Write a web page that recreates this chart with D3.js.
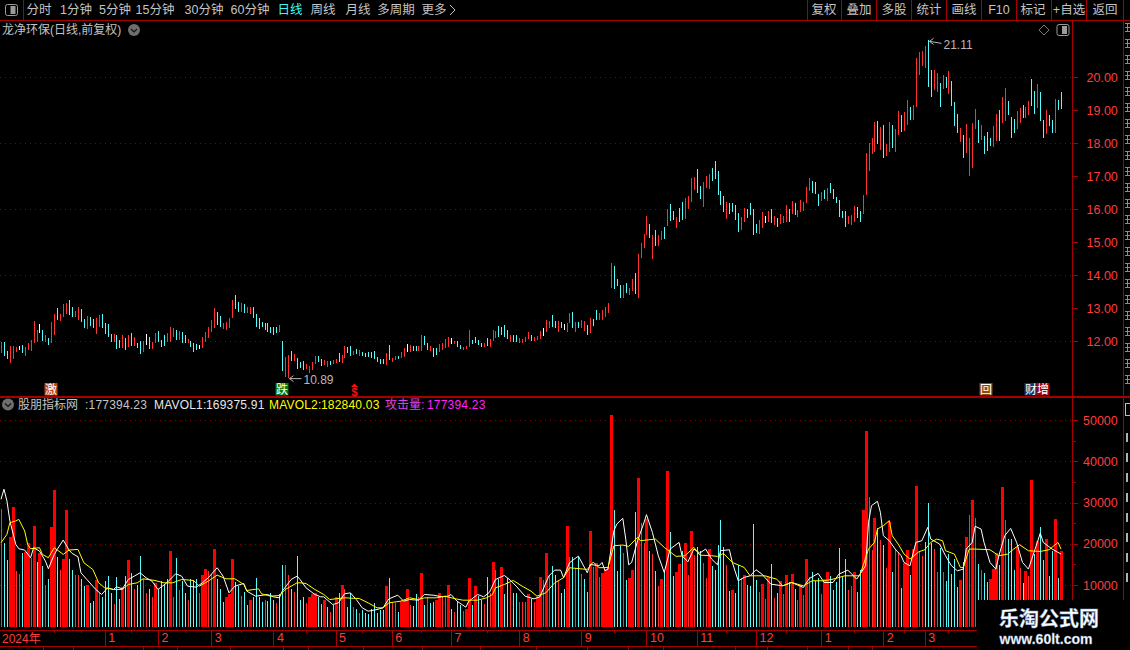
<!DOCTYPE html>
<html>
<head>
<meta charset="utf-8">
<title>龙净环保</title>
<script src="https://cdn.jsdelivr.net/npm/d3@7"></script>
<style>
  html, body { margin: 0; padding: 0; background: #000; overflow: hidden; }
  svg { display: block; }
  text { font-family: "Liberation Sans", "Noto Sans CJK SC", sans-serif; }
</style>
</head>
<body>
<script>
// price bars (r up, c down, w flat)
var highs = [
  11.98,11.97,11.70,11.85,11.85,11.81,11.85,11.88,11.81,11.93,
  12.02,12.61,12.33,12.52,12.33,12.18,12.09,12.58,12.82,13.00,
  12.82,13.12,13.16,13.24,13.03,12.91,13.03,12.97,12.67,12.76,
  12.73,12.67,12.70,12.79,12.82,12.55,12.52,12.21,12.21,12.18,
  12.03,12.18,12.09,12.18,12.24,12.12,11.94,12.00,12.00,12.21,
  12.12,11.98,12.23,12.30,12.03,12.18,12.25,12.42,12.40,12.33,
  12.31,12.28,12.18,12.05,12.01,11.93,11.90,11.88,12.13,12.28,
  12.41,12.64,12.99,12.89,12.76,12.54,12.59,12.69,13.24,13.39,
  13.19,13.14,13.12,13.02,13.02,13.02,12.82,12.69,12.59,12.54,
  12.56,12.43,12.41,12.41,12.48,12.00,11.51,11.58,11.70,11.61,
  11.47,11.37,11.39,11.30,11.24,11.37,11.55,11.55,11.44,11.42,
  11.39,11.40,11.42,11.45,11.63,11.58,11.85,11.83,11.85,11.70,
  11.76,11.73,11.68,11.65,11.67,11.68,11.70,11.51,11.44,11.46,
  11.63,11.88,11.49,11.56,11.56,11.66,11.79,11.91,11.88,11.84,
  11.84,11.86,12.18,12.16,11.93,11.85,11.80,11.78,11.90,11.93,
  12.06,12.12,12.08,12.01,12.01,11.88,11.83,11.86,12.33,12.03,
  12.12,12.03,11.95,11.95,12.09,12.05,12.33,12.30,12.45,12.41,
  12.48,12.33,12.18,12.18,12.18,12.10,12.05,12.13,12.27,12.18,
  12.13,12.15,12.30,12.39,12.64,12.62,12.79,12.62,12.62,12.57,
  12.52,12.56,12.84,12.87,12.57,12.59,12.64,12.62,12.48,12.69,
  12.67,12.94,12.84,12.94,13.04,13.14,
  14.35,14.27,13.87,13.70,13.70,13.75,13.60,13.87,14.05,14.64,
  14.96,15.24,15.79,15.55,15.21,15.36,15.21,15.33,15.44,15.99,
  16.14,15.94,15.75,16.02,16.21,16.33,16.39,16.94,16.97,17.21,
  16.70,16.81,17.00,17.06,17.23,17.45,17.15,16.55,16.39,16.21,
  16.17,16.18,16.12,15.87,15.76,16.03,16.00,16.18,16.00,15.55,
  15.67,15.91,15.79,15.94,16.00,15.79,15.73,15.85,15.79,16.12,
  16.00,16.24,16.18,15.97,16.27,16.21,16.67,16.94,16.85,16.82,
  16.45,16.52,16.58,16.64,16.79,16.61,16.36,16.27,15.94,15.94,
  15.79,15.82,16.09,16.06,15.94,16.42,
  17.71,17.99,18.16,18.64,18.67,18.48,18.55,17.97,18.63,18.55,
  18.42,18.97,18.85,18.94,19.30,19.09,19.15,20.58,20.76,20.79,
  20.94,21.11,20.21,20.21,20.12,19.82,20.06,20.00,20.18,19.88,
  19.24,18.88,18.45,18.24,18.58,18.15,18.61,19.03,18.70,18.55,
  18.21,18.33,18.15,18.52,18.88,19.00,19.39,19.67,19.27,18.79,
  18.73,18.97,19.06,19.15,19.09,19.27,19.94,19.58,19.79,19.55,
  18.70,19.00,18.85,18.70,19.33,19.30,19.55
];
var lows = [
  11.65,11.55,11.46,11.34,11.46,11.68,11.73,11.65,11.55,11.73,
  11.71,11.95,11.98,12.23,12.01,11.98,11.89,11.93,12.18,12.64,
  12.61,12.74,12.82,12.79,12.74,12.74,12.64,12.59,12.40,12.36,
  12.45,12.40,12.21,12.43,12.40,12.21,12.12,11.97,11.97,11.76,
  11.79,11.79,11.73,11.82,11.85,11.85,11.79,11.61,11.67,11.88,
  11.76,11.76,11.93,11.98,11.83,11.85,11.98,11.98,12.13,12.03,
  12.03,11.95,11.95,11.95,11.83,11.67,11.73,11.75,11.78,11.98,
  12.08,12.28,12.38,12.48,12.43,12.35,12.33,12.38,12.69,12.96,
  12.89,12.89,12.86,12.84,12.82,12.69,12.41,12.35,12.41,12.33,
  12.28,12.23,12.18,12.23,12.28,11.09,10.90,10.89,11.39,11.40,
  11.15,11.19,11.12,11.14,11.04,11.12,11.30,11.35,11.24,11.26,
  11.20,11.27,11.29,11.32,11.37,11.32,11.49,11.65,11.55,11.58,
  11.61,11.55,11.55,11.51,11.53,11.47,11.44,11.37,11.30,11.30,
  11.27,11.42,11.37,11.42,11.45,11.49,11.53,11.68,11.68,11.70,
  11.70,11.71,11.71,11.88,11.73,11.70,11.53,11.58,11.66,11.73,
  11.80,11.83,11.91,11.91,11.83,11.75,11.73,11.76,11.83,11.90,
  11.93,11.88,11.81,11.81,11.85,11.83,12.01,12.08,12.11,12.18,
  12.13,12.06,11.98,11.98,11.98,11.95,11.93,11.98,12.05,12.01,
  12.01,12.03,12.05,12.16,12.26,12.38,12.43,12.38,12.28,12.38,
  12.33,12.28,12.54,12.38,12.28,12.38,12.38,12.31,12.18,12.23,
  12.45,12.64,12.64,12.64,12.72,12.86,
  13.62,13.57,13.68,13.31,13.31,13.46,13.39,13.52,13.41,13.31,
  14.53,14.83,15.21,15.13,14.49,14.88,14.88,15.06,15.09,15.48,
  15.65,15.67,15.43,15.62,15.67,15.70,15.99,16.22,16.58,16.49,
  16.30,16.07,16.65,16.61,16.86,16.91,16.42,16.12,15.91,15.70,
  15.85,15.92,15.67,15.31,15.36,15.61,15.73,15.82,15.21,15.27,
  15.24,15.42,15.58,15.61,15.58,15.52,15.45,15.55,15.58,15.61,
  15.61,15.85,15.82,15.76,15.91,15.94,16.18,16.55,16.48,16.45,
  16.09,16.24,16.30,16.24,16.48,16.30,16.18,15.75,15.73,15.45,
  15.55,15.52,15.61,15.73,15.61,15.85,
  16.42,17.15,17.67,17.73,17.97,17.79,17.55,17.61,17.73,17.85,
  17.73,18.25,18.33,18.36,18.55,18.70,18.70,19.09,20.06,20.33,
  20.27,19.70,19.39,19.61,19.54,19.09,19.63,19.67,19.48,19.11,
  18.52,18.30,18.03,17.55,17.70,17.00,17.24,18.42,18.00,18.09,
  17.67,17.76,17.91,17.88,18.06,18.06,18.61,18.67,18.85,18.15,
  18.30,18.42,18.61,18.76,18.76,18.85,19.12,18.88,19.06,18.67,
  18.15,18.27,18.52,18.30,18.30,19.00,19.03
];
var moves = (
  "rccrrrwcrr" + "rrrwcrcrrc" + "rrrccrrccr" + "ccrrccccrc" + "crcrcrccrw" +
  "crrcccrrrc" + "rccrcccwrr" + "rrrccrrrrc" + "crcrrccccc" + "ccccrcrrcr" +
  "cccrrrrccr" + "rcrrcrrccr" + "crcccccccc" + "rcrrcrrwrc" + "crrccrccrr" +
  "rrwrccrrrc" + "cccrcrrrcc" + "ccrccrrrrc" + "rrrwrrccrc" + "wrrcrcrrcr" + "ccrrrr" +
  "rcccrcrrcr" + "rrrcrcrrcr" + "ccrccrrrrc" + "crrrcccccr" + "ccccrrcccc" +
  "rrwrcrcrrr" + "crcrrrrrcc" + "crcrcccccc" + "rrrccr" +
  "rrrrcrcrrc" + "rrcrrcrrrr" + "rccrrcrcrc" + "ccrcrrrrcr" + "cccrrcrrcc" +
  "crrcrrccrc" + "crccrcc"
).split("");

// volume bars (t heavy red, r thin red, c thin cyan)
var volumes = [
  28350,20090,15960,21550,28840,13280,12560,17660,17900,20090,
  16600,24220,15470,17660,14500,9880,11340,23980,32970,16690,
  13530,16200,28110,16200,13530,12310,12310,11340,9640,9880,
  5750,6240,11100,8100,7210,10850,12070,7940,5510,11830,
  6720,9400,12070,15960,12800,9150,9880,16930,11340,8180,
  8910,7210,10370,8910,10850,9880,11340,18140,6970,16440,
  8670,10850,8180,6480,11340,11100,11340,8180,12310,13770,
  13280,12560,18630,11340,8910,5990,7210,7700,16200,10610,
  9640,7450,8420,5270,6480,7210,11580,6970,5990,6480,
  6240,8180,6480,5750,7700,14740,14740,12310,8910,8420,
  16930,
  6480,7210,5750,7210,7700,8180,7210,5510,6480,4780,
  3560,5270,7210,7940,9880,9150,4780,8180,4780,4290,
  3320,4050,3320,3080,4290,5750,3320,4050,4050,9640,
  11580,5750,5750,3560,6240,6240,9150,5270,5020,7700,
  7210,12800,5270,7210,5750,5990,6480,8180,6970,7450,
  10120,4290,3560,5990,5270,3800,4290,11580,5270,9640,
  7450,6480,5510,11830,8180,15470,13530,11340,14260,7700,
  11580,10370,8180,8180,5990,5990,5990,7700,6640,5990,
  7210,11830,11100,17660,12310,14500,12310,10850,8180,9150,
  24220,16690,16690,14010,16690,12560,11340,8420,23000,14260,
  15230,11830,
  12880,13850,14260,51270,
  28190,13360,19520,17740,11180,11660,13610,27700,35960,25030,
  20170,26000,18230,17500,13360,9720,11420,13040,37670,22840,
  12150,13120,15070,18230,20170,12390,23090,17250,19200,18230,
  15310,11660,18710,14580,13610,19680,25760,19200,14820,8500,
  8750,8020,14820,11660,12390,9960,9720,24790,11180,8260,
  10210,6560,11910,15070,6800,8020,10940,7780,12390,10690,
  12640,8990,6320,9960,7530,16280,11910,13120,10940,11660,
  7780,11420,13120,12150,8750,10690,18950,11910,16280,8750,
  9720,13120,8260,
  13610,28190,47390,31350,18470,26240,23810,20900,19680,14090,
  25190,13120,18710,17900,9230,15310,18470,12390,18710,34020,
  18230,17010,20410,29890,20170,18710,13120,18950,13120,10940,
  17500,12640,16280,9480,11180,15550,21630,26970,30620,26240,
  15070,13610,12880,10690,11420,13850,17740,14820,33780,25760,
  21140,21140,13610,19200,14090,10450,13370,12230,35480,17500,
  20660,24060,16040,21140,12150,18230,26000,11660,18230
];
var volumeKinds = (
  "rcctt" + "rrctt" + "rtctcrcttc" + "rttccrrcct" + "cctrccccrc" + "ctctcrccrr" +
  "crtcccctrc" + "rccrcccrtt" + "rrtccctttc" + "crcctccccr" + "cccrccrrcr" + "c" +
  "ccrtttcctc" + "rctctrccrc" + "rcccccccct" + "crrctttrcc" + "rtcrccttrr" +
  "tcrccrttct" + "ccrcrtrctc" + "crccrrrtcr" + "ttrtrccrcc" + "trcrcrcctr" + "tr" +
  "tttt" + "cccrcttctr" + "rtcrcrtctc" + "cttctrtrcc" + "rrtcccccrc" +
  "tccrtccccr" + "trtcrctrtc" + "tcrtrtrccc" + "rttccccccr" + "rtc" +
  "cttrrtcrcr" + "tcrrcttctt" + "rrcccrrcrc" + "cccctctrtr" +
  "crcctttctr" + "ccctrctrtc" + "tcctcctct"
).split("");

// moving averages, only the turning points that could be read
var mavol1Bars = [
  0,1,2,3,5,6,8,10,11,13,15,16,18,19,21,23,24,26,27,29,32,34,36,38,39,41,43,45,47,49,51,53,56,59,61,
  63,66,68,70,73,75,77,79,82,83,86,90,92,94,95,98,100,101,
  103,106,108,109,112,114,116,118,120,122,124,127,129,131,134,136,138,141,143,146,149,151,152,154,
  157,158,161,163,165,167,170,172,174,177,180,182,185,187,189,190,192,195,198,199,
  202,203,204,205,207,208,210,211,212,213,215,217,218,220,222,224,226,229,230,232,234,236,238,240,242,
  243,246,247,249,251,253,255,257,260,264,267,271,273,276,278,281,283,286,289,
  292,293,294,296,297,298,300,302,304,305,307,309,311,313,314,317,319,321,323,325,326,328,329,331,332,
  334,336,337,339,341,343,345,347,350,351,352,355,358
];
var mavol1 = [
  30780,33210,30380,25520,19850,18790,18470,16600,19040,18230,15800,13930,17420,18630,20900,18470,17660,16850,12960,11340,
  8910,7700,9320,8910,9560,9070,11340,12150,12960,11750,10940,8910,10530,12720,12150,
  9720,9480,10530,11750,14180,12150,8100,9720,10370,8510,7290,7700,7130,6890,8510,11340,12150,11340,
  9320,7700,7130,7130,5270,5670,7860,8100,6480,4460,3650,4050,4460,6640,7530,6080,6480,6320,7700,7530,7130,7290,7700,6080,
  4620,6080,7700,7130,8260,11340,12310,11180,9720,7290,6640,7130,12150,13610,13610,11750,15390,17010,12960,14990,
  14660,15470,13450,13850,23170,24790,26160,21140,14900,15470,20740,24790,27050,22760,17090,13040,18710,20330,17090,15630,18710,17740,18710,16280,14900,
  18310,18550,15470,11020,11830,12230,13690,12640,10210,9800,10610,9400,11580,12800,10610,10610,12640,13610,11420,
  14660,25190,29240,30290,27620,21950,20740,18710,17090,15470,14660,20330,20740,23980,21140,19930,17090,14660,13450,13850,18710,20330,24220,23570,20330,
  15470,13850,17090,21950,23730,20330,15470,13850,20330,22600,20330,18710,17500
];
var mavol2Bars = [
  0,2,3,5,6,8,9,10,13,14,16,18,21,23,26,28,31,33,35,38,41,43,46,48,52,55,58,61,65,67,70,73,76,79,82,83,87,88,91,94,96,100,
  101,103,106,109,111,116,121,124,127,129,131,135,138,141,143,147,150,153,156,161,164,166,167,170,173,176,179,181,184,187,190,192,198,200,202,
  205,207,210,212,215,216,221,224,228,231,234,236,240,242,244,247,251,253,258,262,264,267,271,274,278,281,285,290,
  293,295,296,298,300,301,303,305,307,310,312,314,316,318,319,322,324,325,327,329,334,337,340,342,344,347,351,354,357,358
];
var mavol2 = [
  20250,22280,25110,25520,25920,23090,19850,18790,19040,17420,16600,19040,17420,18470,18630,15390,13770,10530,9320,8910,
  8910,10130,10530,11500,11100,10530,10530,11340,11100,9720,10940,12390,11500,11500,10130,8670,9070,7860,7290,7450,8910,10530,
  10530,10370,8910,7700,6480,6890,6720,5670,4460,4460,5670,6080,6890,6480,6890,6890,7290,6720,6320,6320,6890,7700,9320,10130,11100,9720,8510,7290,8100,10530,11750,14180,13770,15550,14180,
  14260,19520,19680,19360,21550,20740,21140,19120,16930,17090,19120,17250,17090,16930,17660,15470,14260,12230,12230,11420,9800,10610,9800,11020,11020,11420,12230,12230,
  18710,20330,23570,24380,25600,21950,19930,17500,16280,18060,18550,20330,21140,20740,18310,17500,14260,14260,18710,18710,18550,17090,17500,18710,19760,18310,18140,18550,20330,18710
];

var priceTicks = [12, 13, 14, 15, 16, 17, 18, 19, 20];
var priceGrid = [12, 14, 16, 18, 20];
var volumeTicks = [10000, 20000, 30000, 40000, 50000];
var volumeMinor = [5000, 15000, 25000, 35000, 45000];
var monthBars = [35, 53, 71, 92, 113, 132, 152, 175, 196, 218, 235, 255, 277, 298, 312];
var monthLabels = ["1", "2", "3", "4", "5", "6", "7", "8", "9", "10", "11", "12", "1", "2", "3"];
var weekBars = [18, 27, 44, 62, 81, 103, 122, 142, 164, 185, 207, 245, 265, 288, 305, 320];

var periodTabs = ["分时", "1分钟", "5分钟", "15分钟", "30分钟", "60分钟", "日线", "周线", "月线", "多周期", "更多"];
var periodTabX = [39, 76, 115, 155, 204, 250, 290, 323, 358, 396, 434];
var toolButtons = ["复权", "叠加", "多股", "统计", "画线", "F10", "标记", "+自选", "返回"];
var toolButtonX = [824, 859, 894, 929, 964, 999, 1033, 1069, 1105];

var colors = { up: "#ff3232", down: "#54fcfc", flat: "#ffffff", heavy: "#ff0000",
               line: "#a80000", grid: "#8a0000", text: "#c4c4c4", axis: "#ff3c3c" };

var width = 1130, height = 650, axisX = 1072.5;

var svg = d3.select("body").append("svg")
  .attr("width", width)
  .attr("height", height)
  .style("background", "#000");

var x = d3.scaleLinear().domain([0, highs.length - 1]).range([1, 1061]);
var yPrice = d3.scaleLinear().domain([12, 20]).range([341, 77]);
var yVolume = d3.scaleLinear().domain([10000, 50000]).range([585, 420]);
var barX = function(i) { return Math.round(x(i)) + 0.5; };

// dotted grid
svg.append("g").selectAll("line").data(priceGrid).join("line")
  .attr("x1", 0).attr("x2", axisX)
  .attr("y1", d => Math.round(yPrice(d)) + 0.5).attr("y2", d => Math.round(yPrice(d)) + 0.5)
  .attr("stroke", colors.grid).attr("stroke-dasharray", "1,4");
svg.append("g").selectAll("line").data(volumeTicks).join("line")
  .attr("x1", 0).attr("x2", axisX)
  .attr("y1", d => Math.round(yVolume(d)) + 0.5).attr("y2", d => Math.round(yVolume(d)) + 0.5)
  .attr("stroke", colors.grid).attr("stroke-dasharray", "1,4");

// price bars
svg.append("g").attr("shape-rendering", "crispEdges")
  .selectAll("line").data(highs).join("line")
  .attr("x1", (d, i) => barX(i)).attr("x2", (d, i) => barX(i))
  .attr("y1", d => yPrice(d))
  .attr("y2", (d, i) => yPrice(lows[i]))
  .attr("stroke", (d, i) => moves[i] == "r" ? colors.up : moves[i] == "c" ? colors.down : colors.flat);

// volume bars, thin ones first
var volumeBottom = 627;
svg.append("g").attr("shape-rendering", "crispEdges")
  .selectAll("line").data(d3.range(volumes.length).filter(i => volumeKinds[i] != "t")).join("line")
  .attr("x1", i => barX(i)).attr("x2", i => barX(i))
  .attr("y1", i => yVolume(volumes[i])).attr("y2", volumeBottom)
  .attr("stroke", i => volumeKinds[i] == "r" ? colors.up : colors.down);
svg.append("g").attr("shape-rendering", "crispEdges")
  .selectAll("rect").data(d3.range(volumes.length).filter(i => volumeKinds[i] == "t")).join("rect")
  .attr("x", i => Math.round(x(i)) - 1).attr("width", 3)
  .attr("y", i => yVolume(volumes[i]))
  .attr("height", i => volumeBottom - yVolume(volumes[i]))
  .attr("fill", colors.heavy);

// moving averages
var volumeLine = d3.line().x(d => x(d[0])).y(d => yVolume(d[1]));
svg.append("path").datum(d3.zip(mavol1Bars, mavol1))
  .attr("fill", "none").attr("stroke", "#ffffff").attr("d", volumeLine);
svg.append("path").datum(d3.zip(mavol2Bars, mavol2))
  .attr("fill", "none").attr("stroke", "#ffff00").attr("d", volumeLine);

// frame lines
function hline(x1, x2, y, w) {
  svg.append("line").attr("x1", x1).attr("x2", x2).attr("y1", y).attr("y2", y)
    .attr("stroke", colors.line).attr("stroke-width", w || 1).attr("shape-rendering", "crispEdges");
}
function vline(xp, y1, y2) {
  svg.append("line").attr("x1", xp).attr("x2", xp).attr("y1", y1).attr("y2", y2)
    .attr("stroke", colors.line).attr("shape-rendering", "crispEdges");
}
hline(0, width, 20.5);
hline(0, width, 396.5, 2);
vline(23.5, 0, 20);
vline(1123.5, 20, 650);

// right axes
var priceAxis = d3.axisRight(yPrice).tickValues(priceTicks).tickSize(5).tickPadding(9).tickFormat(d3.format(".2f"));
var priceG = svg.append("g").attr("transform", "translate(" + axisX + ",0)").call(priceAxis);
var volumeAxis = d3.axisRight(yVolume).tickValues(volumeTicks).tickSize(5).tickPadding(5.5).tickFormat(d3.format("d"));
var volumeG = svg.append("g").attr("transform", "translate(" + axisX + ",0)").call(volumeAxis);
var volumeMinorG = svg.append("g").attr("transform", "translate(" + axisX + ",0)")
  .call(d3.axisRight(yVolume).tickValues(volumeMinor).tickSize(3).tickFormat(""));
[priceG, volumeG, volumeMinorG].forEach(function(g) {
  g.select(".domain").remove();
  g.selectAll("line").attr("stroke", colors.line).attr("shape-rendering", "crispEdges");
  g.selectAll("text").attr("fill", colors.axis).attr("font-size", 12.5)
    .attr("font-family", "Liberation Sans");
});
vline(axisX, 20, 600);

// time axis
hline(0, 977, 630.5);
hline(0, 977, 646.5);
var timeAxis = d3.axisBottom(x).tickValues(monthBars).tickSize(16)
  .tickFormat((d, i) => monthLabels[i]).tickPadding(0);
var timeG = svg.append("g").attr("transform", "translate(0,630.5)").call(timeAxis);
timeG.select(".domain").remove();
timeG.selectAll("line").attr("stroke", colors.line).attr("shape-rendering", "crispEdges");
timeG.selectAll("text").attr("fill", colors.axis).attr("font-size", 12.5)
  .attr("text-anchor", "start").attr("x", 3).attr("y", 3).attr("dy", "0.71em")
  .attr("font-family", "Liberation Sans");
svg.append("g").selectAll("line").data(weekBars).join("line")
  .attr("x1", d => Math.round(x(d)) + 0.5).attr("x2", d => Math.round(x(d)) + 0.5)
  .attr("y1", 630).attr("y2", 633)
  .attr("stroke", colors.line).attr("shape-rendering", "crispEdges");
svg.append("text").attr("x", 2).attr("y", 643).attr("fill", colors.axis)
  .attr("font-size", 12).text("2024年");

// tab strip under the time axis, nearly out of the window
svg.append("g").selectAll("line")
  .data([43, 73, 143, 177, 230, 283, 308, 363, 422, 480, 536, 587, 628, 663, 735, 767, 807, 848, 872]).join("line")
  .attr("x1", d => d + 0.5).attr("x2", d => d + 0.5).attr("y1", 647).attr("y2", 650)
  .attr("stroke", colors.line).attr("shape-rendering", "crispEdges");

// top toolbar
svg.append("g").selectAll("text").data(periodTabs).join("text")
  .attr("x", (d, i) => periodTabX[i]).attr("y", 14).attr("text-anchor", "middle")
  .attr("font-size", 12.5)
  .attr("fill", d => d == "日线" ? "#40f8f8" : colors.text)
  .text(d => d);
svg.append("path").attr("d", "M450,5 L455,10 L450,15").attr("fill", "none").attr("stroke", colors.text);
svg.append("g").selectAll("text").data(toolButtons).join("text")
  .attr("x", (d, i) => toolButtonX[i]).attr("y", 14).attr("text-anchor", "middle")
  .attr("font-size", 12.5).attr("fill", colors.text).text(d => d);
svg.append("g").selectAll("line").data([807, 841, 876, 911, 946, 981, 1016, 1051, 1086, 1123]).join("line")
  .attr("x1", d => d + 0.5).attr("x2", d => d + 0.5).attr("y1", 0).attr("y2", 20)
  .attr("stroke", colors.line).attr("shape-rendering", "crispEdges");
function panelIcon(cx, cy) {
  svg.append("rect").attr("x", cx - 6).attr("y", cy - 5.5).attr("width", 12).attr("height", 11).attr("rx", 2)
    .attr("fill", "none").attr("stroke", "#9a9a9a");
  svg.append("rect").attr("x", cx - 1).attr("y", cy - 4).attr("width", 5).attr("height", 8).attr("fill", "#9a9a9a");
}
panelIcon(11.5, 10);
panelIcon(1063, 30);
svg.append("path").attr("d", "M1044,25 L1049,30 L1044,35 L1039,30 Z").attr("fill", "none").attr("stroke", "#777");

// titles
function roundChevron(cx, cy) {
  svg.append("circle").attr("cx", cx).attr("cy", cy).attr("r", 6).attr("fill", "#6e6e6e");
  svg.append("path").attr("d", "M" + (cx - 3) + "," + (cy - 1) + " l3,3 l3,-3")
    .attr("fill", "none").attr("stroke", "#111").attr("stroke-width", 1.2);
}
svg.append("text").attr("x", 2).attr("y", 34).attr("font-size", 12).attr("fill", colors.text).text("龙净环保(日线,前复权)");
roundChevron(134, 30);
roundChevron(8, 404.5);

var legendText = ["股朋指标网", ":177394.23", "MAVOL1:", "169375.91", "MAVOL2:", "182840.03", "攻击量:", "177394.23"];
var legendX = [18, 85, 154, 206, 269, 321, 385, 427];
var legendFill = [colors.text, colors.text, "#e8e8e8", "#e8e8e8", "#ffff00", "#ffff00", "#e040e0", "#ff20ff"];
svg.append("g").selectAll("text").data(legendText).join("text")
  .attr("x", (d, i) => legendX[i]).attr("y", 409).attr("font-size", 12)
  .attr("letter-spacing", (d, i) => i == 0 || i == 6 ? 0 : "0.2px")
  .attr("fill", (d, i) => legendFill[i]).text(d => d);

// high and low notes
var noteBars = [313, 97];
var notePrices = [21.11, 10.89];
var noteLabels = ["21.11", "10.89"];
noteBars.forEach(function(bar, i) {
  var px = barX(bar) + 1, py = yPrice(notePrices[i]) + 1;
  svg.append("path")
    .attr("d", "M" + px + "," + py + " l12," + (i == 0 ? 2 : 0) + " M" + px + "," + py + " l4,-3 M" + px + "," + py + " l4,3")
    .attr("fill", "none").attr("stroke", "#b8b8b8");
  svg.append("text").attr("x", px + 14).attr("y", py + (i == 0 ? 8 : 5)).attr("font-size", 12)
    .attr("fill", "#b8b8b8").text(noteLabels[i]);
});

// event markers along the bottom of the price panel
var markerText = ["激", "跌", "回", "财", "增"];
var markerX = [51, 282, 986, 1031, 1043];
var markerFill = ["#b84810", "#0a7a10", "#8a4a10", "#103868", "#a00010"];
svg.append("g").selectAll("rect").data(markerText).join("rect")
  .attr("x", (d, i) => markerX[i] - 6.5).attr("y", 383).attr("width", 13).attr("height", 12.5)
  .attr("fill", (d, i) => markerFill[i]);
svg.append("g").selectAll("text").data(markerText).join("text")
  .attr("x", (d, i) => markerX[i]).attr("y", 394).attr("text-anchor", "middle")
  .attr("font-size", 12).attr("fill", "#fff").text(d => d);
svg.append("text").attr("x", 354.5).attr("y", 396).attr("text-anchor", "middle")
  .attr("font-size", 11).attr("font-weight", "bold").attr("fill", "#ff1010").text("$");
svg.append("path").attr("d", "M351,387 L354.5,383.5 L358,387 Z").attr("fill", "#ff1010");

// right hand panel, only a sliver of it shows at the window edge
var sideRows = [32, 48, 64, 80, 96, 112, 128, 144, 160, 176, 192, 208, 224, 240, 256, 272, 288, 304, 320, 336, 352, 368, 384];
svg.append("g").selectAll("path").data(sideRows).join("path")
  .attr("d", d => "M1125," + (d - 8.5) + " h5 M1125," + (d - 4.5) + " h5 M1125," + (d - 0.5) + " h5 M1127.5," + (d - 9) + " v9")
  .attr("fill", "none").attr("stroke", "#8c8c8c");
var sideNumbers = [442, 462, 482, 502, 522, 542, 562, 582];
svg.append("g").selectAll("rect").data(sideNumbers).join("rect")
  .attr("x", 1126).attr("y", d => d - 9).attr("width", 2).attr("height", 9).attr("fill", "#b0b0b0");
svg.append("rect").attr("x", 1125.5).attr("y", 403.5).attr("width", 6).attr("height", 12).attr("fill", "none").attr("stroke", "#d8d800");

// site stamp over the corner
svg.append("rect").attr("x", 977).attr("y", 600).attr("width", 153).attr("height", 50).attr("fill", "#000");
svg.append("text").attr("x", 1049).attr("y", 626).attr("text-anchor", "middle")
  .attr("font-family", "Noto Sans CJK SC").attr("font-size", 20).attr("font-weight", "bold")
  .attr("fill", "#fff").attr("stroke", "#7fa4d8").attr("stroke-width", 0.4).text("乐淘公式网");
svg.append("text").attr("x", 1046).attr("y", 644).attr("text-anchor", "middle")
  .attr("font-family", "Liberation Serif").attr("font-size", 14).attr("font-weight", "bold")
  .attr("fill", "#fff").attr("stroke", "#7fa4d8").attr("stroke-width", 0.3).text("www.60lt.com");
</script>
</body>
</html>
